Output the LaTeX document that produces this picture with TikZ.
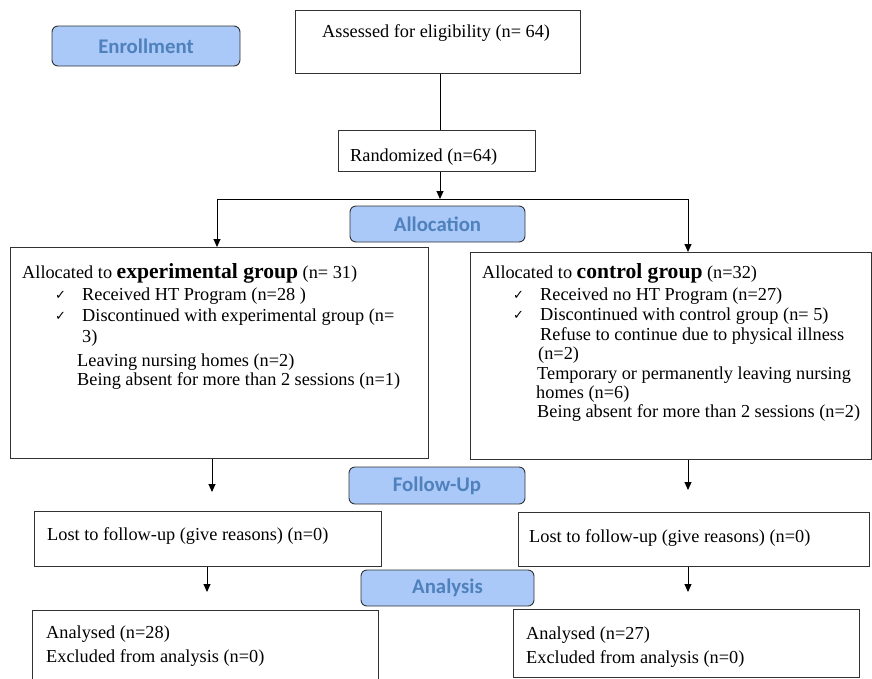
\documentclass[tikz,border=0pt]{standalone}
\usepackage{fontspec}
\setmainfont{Liberation Serif}
\newfontfamily\carlito{Carlito}
\newfontfamily\dejavu{DejaVu Sans}
\usetikzlibrary{arrows.meta}
\definecolor{phasefill}{RGB}{170,200,248}
\definecolor{phasetext}{RGB}{79,129,189}
\definecolor{edge}{RGB}{50,50,50}
\newcommand\chk{{\dejavu\fontsize{13}{13}\selectfont ✓}}
\tikzset{
  box/.style={draw=edge, line width=0.9pt, anchor=north west, inner sep=0pt, minimum width=#1},
  phase/.style={draw=edge, fill=phasefill, rounded corners=6pt, line width=0.9pt,
    font=\carlito\bfseries\fontsize{20.8}{21}\selectfont, text=phasetext, inner sep=0pt},
  tx/.style={anchor=base west, inner sep=0pt, font=\fontsize{18.3}{20}\selectfont},
  ck/.style={anchor=base west, inner sep=0pt},
  ln/.style={draw=black, line width=0.9pt},
  arr/.style={draw=black, line width=0.9pt, -{Triangle[width=7pt,length=8pt]}},
}
\begin{document}
\begin{tikzpicture}[x=1pt,y=-1pt]
\useasboundingbox (0,0) rectangle (872,678);
\clip (0,0) rectangle (872,678);
% phase labels
\node[phase, minimum width=188pt, minimum height=40pt] (enroll) at (146,46) {Enrollment};
\node[phase, minimum width=175pt, minimum height=36pt] (alloc) at (437.5,224) {Allocation};
\node[phase, minimum width=176pt, minimum height=37pt] (follow) at (437,485.5) {Follow-Up};
\node[phase, minimum width=173pt, minimum height=36pt] (analysis) at (447.5,588) {Analysis};
% boxes
\node[box=285pt, minimum height=63pt] (assess) at (295,10) {};
\node[box=197pt, minimum height=41pt] (rand) at (338,130) {};
\node[box=418pt, minimum height=211pt] (expL) at (10,247) {};
\node[box=401pt, minimum height=207pt] (expR) at (470,252) {};
\node[box=347pt, minimum height=55pt] (lostL) at (34,511) {};
\node[box=351pt, minimum height=54pt] (lostR) at (518,512) {};
\node[box=346pt, minimum height=90pt] (anaL) at (32,610) {};
\node[box=346pt, minimum height=68pt] (anaR) at (513,609) {};
% texts
\node[tx] (tAssess) at (322,37) {Assessed for eligibility (n= 64)};
\node[tx] (tRand) at (350,161) {Randomized (n=64)};
\node[tx] (tL1) at (22,278) {Allocated to {\bfseries\fontsize{21.6}{22}\selectfont experimental group} (n= 31)};
\node[ck] (cL1) at (55,299) {\chk};
\node[tx] (tL2) at (82,300) {Received HT Program (n=28 )};
\node[ck] (cL2) at (55,320) {\chk};
\node[tx] (tL3) at (82,321) {Discontinued with experimental group (n=};
\node[tx] (tL4) at (82,342) {3)};
\node[tx] (tL5) at (77,366) {Leaving nursing homes (n=2)};
\node[tx] (tL6) at (77,385) {Being absent for more than 2 sessions (n=1)};
\node[tx] (tR1) at (482,278) {Allocated to {\bfseries\fontsize{21.6}{22}\selectfont control group} (n=32)};
\node[ck] (cR1) at (513,299) {\chk};
\node[tx] (tR2) at (540,300) {Received no HT Program (n=27)};
\node[ck] (cR2) at (513,319) {\chk};
\node[tx] (tR3) at (540,320) {Discontinued with control group (n= 5)};
\node[tx] (tR4) at (540,340) {Refuse to continue due to physical illness};
\node[tx] (tR5) at (538,359) {(n=2)};
\node[tx] (tR6) at (537,379) {Temporary or permanently leaving nursing};
\node[tx] (tR7) at (536,398) {homes (n=6)};
\node[tx] (tR8) at (537,417) {Being absent for more than 2 sessions (n=2)};
\node[tx] (tLostL) at (47,540) {Lost to follow-up (give reasons) (n=0)};
\node[tx] (tLostR) at (529,542) {Lost to follow-up (give reasons) (n=0)};
\node[tx] (tAnaL1) at (46,638) {Analysed (n=28)};
\node[tx] (tAnaL2) at (46,662) {Excluded from analysis (n=0)};
\node[tx] (tAnaR1) at (526,639) {Analysed (n=27)};
\node[tx] (tAnaR2) at (526,663) {Excluded from analysis (n=0)};
% connectors
\coordinate (c1) at (440,0);
\coordinate (split) at (440,199);
\coordinate (sl) at (217,199);
\coordinate (sr) at (688,199);
\draw[ln] (assess.south -| c1) -- (rand.north -| c1);
\draw[arr] (rand.south -| c1) -- (split);
\draw[ln] (sl) -- (sr);
\draw[arr] (sl) -- (sl |- expL.north);
\draw[arr] (sr) -- (sr |- expR.north);
\coordinate (f1) at (212,492);
\coordinate (f2) at (688,490);
\coordinate (a1) at (207,592);
\coordinate (a2) at (688,592);
\draw[arr] (f1 |- expL.south) -- (f1);
\draw[arr] (f2 |- expR.south) -- (f2);
\draw[arr] (a1 |- lostL.south) -- (a1);
\draw[arr] (a2 |- lostR.south) -- (a2);
\end{tikzpicture}
\end{document}
